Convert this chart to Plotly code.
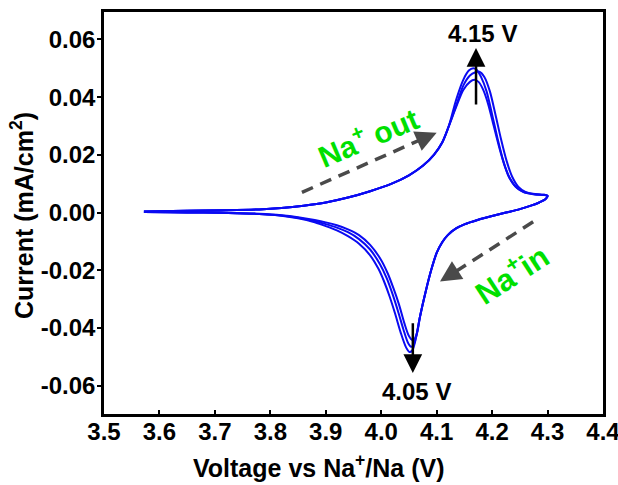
import plotly.graph_objects as go

# ---------------- data ----------------
# common anodic (forward) branch, 3.57 V -> 4.12 V
fwd_v = [3.572, 3.650, 3.720, 3.780, 3.820, 3.860, 3.900, 3.940, 3.980, 4.020, 4.050, 4.075, 4.095, 4.110, 4.122]
fwd_i = [0.0004, 0.0006, 0.0008, 0.0011, 0.0016, 0.0024, 0.0035, 0.0052, 0.0074, 0.0101, 0.0129, 0.0162, 0.0200, 0.0243, 0.0300]

# anodic peak region for each cycle (up to the 4.30 V vertex)
peak1_v = [4.135, 4.148, 4.158, 4.166, 4.172, 4.180, 4.190, 4.200, 4.210, 4.220, 4.230, 4.242, 4.256, 4.275, 4.292, 4.300]
peak1_i = [0.0390, 0.0460, 0.0492, 0.0500, 0.0495, 0.0470, 0.0420, 0.0340, 0.0255, 0.0180, 0.0125, 0.0090, 0.0072, 0.0064, 0.0062, 0.0058]
peak2_v = [4.135, 4.148, 4.160, 4.170, 4.177, 4.186, 4.196, 4.206, 4.216, 4.226, 4.236, 4.247, 4.260, 4.278, 4.293, 4.300]
peak2_i = [0.0370, 0.0440, 0.0475, 0.0486, 0.0488, 0.0470, 0.0420, 0.0340, 0.0255, 0.0180, 0.0125, 0.0090, 0.0072, 0.0064, 0.0062, 0.0058]
peak3_v = [4.135, 4.148, 4.160, 4.168, 4.176, 4.184, 4.193, 4.203, 4.213, 4.223, 4.233, 4.245, 4.258, 4.276, 4.292, 4.300]
peak3_i = [0.0365, 0.0425, 0.0453, 0.0460, 0.0452, 0.0425, 0.0375, 0.0300, 0.0225, 0.0160, 0.0115, 0.0085, 0.0070, 0.0063, 0.0061, 0.0058]

# common cathodic (reverse) branch, 4.30 V -> 4.07 V
rev_v = [4.296, 4.285, 4.270, 4.250, 4.225, 4.200, 4.175, 4.150, 4.135, 4.120, 4.110, 4.100, 4.090, 4.080, 4.070]
rev_i = [0.0046, 0.0035, 0.0024, 0.0012, 0.0000, -0.0012, -0.0025, -0.0041, -0.0055, -0.0078, -0.0103, -0.0140, -0.0200, -0.0275, -0.0360]

# cathodic peak and return to 3.57 V for each cycle
trough1_v = [4.062, 4.056, 4.051, 4.045, 4.035, 4.025, 4.015, 4.005, 3.995, 3.980, 3.960, 3.940, 3.920, 3.900, 3.880, 3.850, 3.820, 3.780, 3.740, 3.680, 3.620, 3.572]
trough1_i = [-0.0440, -0.0478, -0.0483, -0.0468, -0.0415, -0.0350, -0.0290, -0.0238, -0.0195, -0.0148, -0.0108, -0.0082, -0.0062, -0.0047, -0.0034, -0.0020, -0.0011, -0.0005, -0.0002, 0.0000, 0.0001, 0.0002]
trough2_v = [4.063, 4.058, 4.054, 4.048, 4.040, 4.030, 4.020, 4.010, 3.998, 3.980, 3.960, 3.940, 3.920, 3.900, 3.880, 3.850, 3.820, 3.780, 3.740, 3.680, 3.620, 3.572]
trough2_i = [-0.0430, -0.0460, -0.0465, -0.0450, -0.0405, -0.0340, -0.0280, -0.0228, -0.0180, -0.0128, -0.0092, -0.0068, -0.0052, -0.0040, -0.0030, -0.0018, -0.0010, -0.0005, -0.0002, 0.0000, 0.0001, 0.0002]
trough3_v = [4.065, 4.060, 4.056, 4.050, 4.042, 4.032, 4.022, 4.012, 4.000, 3.980, 3.960, 3.940, 3.920, 3.900, 3.880, 3.850, 3.820, 3.780, 3.740, 3.680, 3.620, 3.572]
trough3_i = [-0.0415, -0.0438, -0.0442, -0.0428, -0.0385, -0.0318, -0.0262, -0.0212, -0.0165, -0.0112, -0.0078, -0.0058, -0.0044, -0.0034, -0.0026, -0.0016, -0.0009, -0.0004, -0.0002, 0.0000, 0.0001, 0.0002]

x_ticks = [3.5, 3.6, 3.7, 3.8, 3.9, 4.0, 4.1, 4.2, 4.3, 4.4]
x_tick_text = ["3.5", "3.6", "3.7", "3.8", "3.9", "4.0", "4.1", "4.2", "4.3", "4.4"]
y_ticks = [-0.06, -0.04, -0.02, 0.00, 0.02, 0.04, 0.06]
y_tick_text = ["-0.06", "-0.04", "-0.02", "0.00", "0.02", "0.04", "0.06"]

cycles = [
    (fwd_v + peak1_v + rev_v + trough1_v, fwd_i + peak1_i + rev_i + trough1_i),
    (fwd_v + peak2_v + rev_v + trough2_v, fwd_i + peak2_i + rev_i + trough2_i),
    (fwd_v + peak3_v + rev_v + trough3_v, fwd_i + peak3_i + rev_i + trough3_i),
]

FONT = "Liberation Sans, Arial, sans-serif"
BLUE = "#0A0AF2"
GREEN = "#00E000"
GREY = "#4A4A4A"

fig = go.Figure()
for v, i in cycles:
    fig.add_trace(go.Scatter(x=v, y=i, mode="lines",
                             line=dict(color=BLUE, width=2.0, shape="spline", smoothing=0.8),
                             showlegend=False, hoverinfo="skip"))

# dashed grey direction arrows (line as shape + head as annotation)
fig.add_shape(type="line", xref="x", yref="y", x0=3.857, y0=0.0070, x1=4.074, y1=0.0255,
              line=dict(color=GREY, width=3.5, dash="12px,8px"))
fig.add_shape(type="line", xref="x", yref="y", x0=4.274, y0=-0.0032, x1=4.130, y1=-0.0210,
              line=dict(color=GREY, width=3.5, dash="12px,8px"))

annotations = [
    dict(x=4.100, y=0.0277, ax=-17, ay=7.5, xref="x", yref="y", text="", showarrow=True,
         arrowhead=2, arrowsize=1.4, arrowwidth=3, arrowcolor=GREY, standoff=0),
    dict(x=4.106, y=-0.0239, ax=15.5, ay=-10, xref="x", yref="y", text="", showarrow=True,
         arrowhead=2, arrowsize=1.4, arrowwidth=3, arrowcolor=GREY, standoff=0),
    # black peak arrows
    dict(x=4.171, y=0.0570, ax=4.171, ay=0.0369, xref="x", yref="y", axref="x", ayref="y",
         text="", showarrow=True, arrowhead=2, arrowsize=1.5, arrowwidth=2.5, arrowcolor="black", standoff=0),
    dict(x=4.057, y=-0.0556, ax=4.057, ay=-0.0378, xref="x", yref="y", axref="x", ayref="y",
         text="", showarrow=True, arrowhead=2, arrowsize=1.5, arrowwidth=2.5, arrowcolor="black", standoff=0),
    dict(x=4.182, y=0.0622, xref="x", yref="y", text="4.15 V", showarrow=False,
         font=dict(family=FONT, size=24, color="black", weight="bold")),
    dict(x=4.064, y=-0.0621, xref="x", yref="y", text="4.05 V", showarrow=False,
         font=dict(family=FONT, size=24, color="black", weight="bold")),
    dict(x=3.976, y=0.0265, xref="x", yref="y", text="Na<sup>+</sup> out", showarrow=False,
         textangle=-23, font=dict(family=FONT, size=30, color=GREEN, weight="bold")),
    dict(x=4.234, y=-0.0209, xref="x", yref="y", text="Na<sup>+</sup>in", showarrow=False,
         textangle=-33, font=dict(family=FONT, size=31, color=GREEN, weight="bold")),
    # axis titles
    dict(x=(319 - 104) / 499, y=(414 - 466) / 402, xref="paper", yref="paper",
         text="Voltage vs Na<sup>+</sup>/Na (V)", showarrow=False, xanchor="center", yanchor="middle",
         font=dict(family=FONT, size=25, color="black", weight="bold")),
    dict(x=(22 - 104) / 499, y=(414 - 216) / 402, xref="paper", yref="paper",
         text="Current (mA/cm<sup>2</sup>)", showarrow=False, textangle=-90,
         xanchor="center", yanchor="middle",
         font=dict(family=FONT, size=25, color="black", weight="bold")),
]

fig.update_layout(
    width=618, height=485,
    margin=dict(l=104, r=15, t=12, b=71, autoexpand=False),
    paper_bgcolor="white", plot_bgcolor="white",
    font=dict(family=FONT, color="black"),
    annotations=annotations,
    showlegend=False,
)
fig.update_xaxes(
    range=[3.5, 4.4], tickvals=x_ticks, ticktext=x_tick_text,
    ticks="inside", ticklen=4, tickwidth=1.5, tickcolor="black",
    showline=True, linecolor="black", linewidth=2.5, mirror=True,
    showgrid=False, zeroline=False, automargin=False, ticklabeloverflow="allow",
    ticklabelstandoff=-6,
    tickfont=dict(family=FONT, size=24, color="black", weight="bold"),
)
fig.update_yaxes(
    range=[-0.0698, 0.0695], tickvals=y_ticks, ticktext=y_tick_text,
    ticks="outside", ticklen=4, tickwidth=1.5, tickcolor="black",
    showline=True, linecolor="black", linewidth=2.5, mirror=True,
    showgrid=False, zeroline=False, automargin=False,
    ticklabelstandoff=-3,
    tickfont=dict(family=FONT, size=24, color="black", weight="bold"),
)

fig.write_html("out.html", config={"displayModeBar": False},
               post_script="document.body.style.margin='0';document.body.style.padding='0';")
